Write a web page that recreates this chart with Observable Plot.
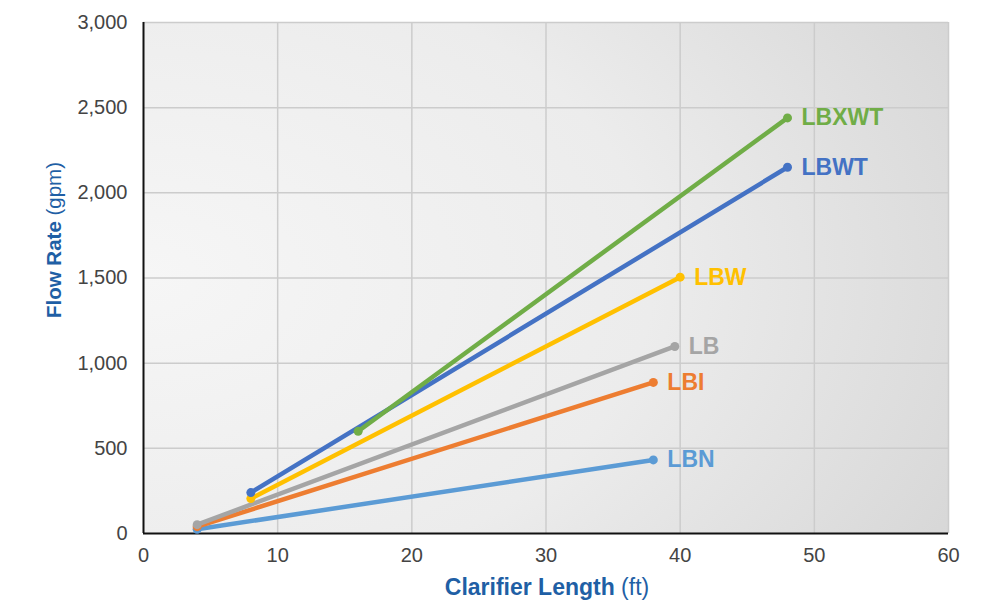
<!DOCTYPE html>
<html>
<head>
<meta charset="utf-8">
<script src="https://cdn.jsdelivr.net/npm/d3@7"></script>
<script src="https://cdn.jsdelivr.net/npm/@observablehq/plot@0.6"></script>
<style>
  html, body { margin: 0; padding: 0; background: #fff; }
  svg { display: block; }
</style>
</head>
<body>
<div id="chart"></div>
<script>
const series = ["LBN", "LBI", "LB", "LBW", "LBWT", "LBXWT"];
const colors = ["#5B9BD5", "#ED7D31", "#A5A5A5", "#FFC000", "#4472C4", "#70AD47"];
const startLength = [4, 4, 4, 8, 8, 16];
const startFlow = [25, 40, 52, 205, 240, 600];
const endLength = [38, 38, 39.6, 40, 48, 48];
const endFlow = [432, 887, 1098, 1505, 2150, 2440];
const xTicks = [0, 10, 20, 30, 40, 50, 60];
const yTicks = [0, 500, 1000, 1500, 2000, 2500, 3000];

const pts = [];
series.forEach((s, i) => {
  pts.push({series: s, x: startLength[i], y: startFlow[i], end: false});
  pts.push({series: s, x: endLength[i], y: endFlow[i], end: true});
});
const ends = pts.filter(d => d.end);

const plot = Plot.plot({
  width: 983,
  height: 600,
  marginLeft: 143,
  marginRight: 35,
  marginTop: 22,
  marginBottom: 67,
  style: {fontFamily: "Liberation Sans, Arial, sans-serif", background: "#fff"},
  x: {domain: [0, 60], ticks: xTicks, label: null},
  y: {domain: [0, 3000], ticks: yTicks, label: null},
  color: {domain: series, range: colors},
  marks: [
    Plot.frame({fill: "url(#bgGrad)", stroke: "none"}),
    Plot.gridX(xTicks.filter(d => d > 0), {stroke: "#cccccc", strokeOpacity: 1, strokeWidth: 1.5}),
    Plot.gridY(yTicks.filter(d => d > 0), {stroke: "#cccccc", strokeOpacity: 1, strokeWidth: 1.5}),
    Plot.axisX({ticks: xTicks, tickSize: 0, tickPadding: 14, fontSize: 20, fill: "#444", label: null}),
    Plot.axisY({ticks: yTicks, tickSize: 0, tickPadding: 16, fontSize: 20, fill: "#444",
      tickFormat: d3.format(","), label: null}),
    Plot.ruleX([0], {stroke: "#111", strokeWidth: 2}),
    Plot.ruleY([0], {stroke: "#111", strokeWidth: 2}),
    Plot.line(pts, {x: "x", y: "y", z: "series", stroke: "series", strokeWidth: 4.5, strokeLinecap: "round"}),
    Plot.dot(pts, {x: "x", y: "y", fill: "series", r: 4.5}),
    Plot.text(ends, {x: "x", y: "y", text: "series", fill: "series", dx: 14, textAnchor: "start",
      lineAnchor: "middle", fontSize: 23, fontWeight: "bold"})
  ]
});

const svg = d3.select(plot);
const defs = svg.insert("defs", ":first-child");
const g = defs.append("radialGradient").attr("id", "bgGrad")
  .attr("cx", "0").attr("cy", "0.5").attr("r", "1.15").attr("gradientUnits", "objectBoundingBox");
g.append("stop").attr("offset", "0%").attr("stop-color", "#f6f6f6");
g.append("stop").attr("offset", "55%").attr("stop-color", "#ececec");
g.append("stop").attr("offset", "100%").attr("stop-color", "#d6d6d6");

const xs = plot.scale("x");
const xl = svg.append("text")
  .attr("x", 547).attr("y", 595)
  .attr("text-anchor", "middle").attr("fill", "#1f5fa5")
  .attr("font-family", "Liberation Sans, Arial, sans-serif").attr("font-size", 23);
xl.append("tspan").attr("font-weight", "bold").text("Clarifier Length");
xl.append("tspan").text(" (ft)");

const yl = svg.append("text")
  .attr("transform", `translate(61,240) rotate(-90)`)
  .attr("text-anchor", "middle").attr("fill", "#1f5fa5")
  .attr("font-family", "Liberation Sans, Arial, sans-serif").attr("font-size", 20.5);
yl.append("tspan").attr("font-weight", "bold").text("Flow Rate");
yl.append("tspan").text(" (gpm)");

document.getElementById("chart").appendChild(plot);
</script>
</body>
</html>
